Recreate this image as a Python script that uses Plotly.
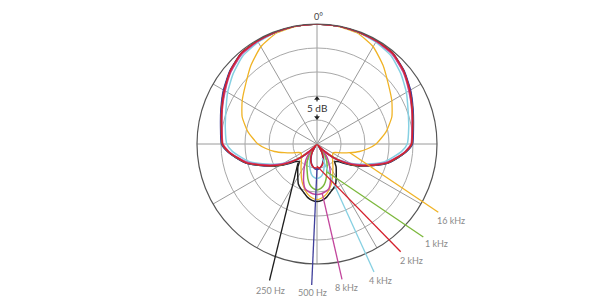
import math
import plotly.graph_objects as go

# ---------------- data (dB vs angle, half pattern 0..180 deg, mirrored) ----------------
angles = [0, 10, 20, 30, 40, 50, 60, 70, 80, 90, 95, 100, 105, 110, 115, 120, 125,
          130, 135, 140, 145, 150, 155, 160, 165, 170, 175, 180]

db_250 = [0, 0, -0.1, -0.2, -0.4, -1.4, -2.6, -3.8, -4.7, -5.2, -6.4, -8.0, -9.7, -12.0, -14.1, -16.0, -17.9,
          -19.3, -19.8, -18.8, -18.0, -17.0, -15.8, -15.1, -14.5, -13.7, -13.2, -13.0]
db_500 = [0, 0, -0.1, -0.2, -0.4, -1.3, -2.5, -3.7, -4.6, -5.1, -6.3, -8.0, -9.7, -12.1, -14.3, -16.3, -18.3,
          -20.6, -22.5, -24.3, -24.5, -23.0, -22.2, -21.4, -20.7, -20.2, -19.8, -19.7]
db_1k = [0, 0, -0.1, -0.2, -0.5, -1.5, -2.8, -3.9, -4.8, -5.3, -6.5, -8.2, -9.9, -12.3, -14.4, -16.4, -18.6,
         -21.0, -23.0, -23.6, -22.0, -21.0, -20.0, -19.0, -17.6, -16.4, -15.7, -15.4]
db_2k = [0, 0, -0.1, -0.2, -0.4, -1.4, -2.7, -3.9, -4.8, -5.3, -6.5, -8.2, -9.8, -12.2, -14.3, -16.3, -18.5,
         -20.8, -23.0, -24.8, -24.0, -23.0, -22.0, -21.2, -20.6, -20.2, -20.0, -20.0]
db_4k = [0, 0, -0.2, -0.5, -1.0, -2.2, -3.5, -4.8, -5.6, -6.2, -7.3, -9.0, -10.6, -12.9, -15.0, -17.0, -19.0,
         -21.0, -23.0, -24.0, -23.3, -22.5, -21.5, -20.5, -19.5, -18.5, -18.0, -17.8]
db_8k = [0, 0, -0.1, -0.3, -0.6, -1.6, -2.9, -4.0, -4.9, -5.4, -6.6, -8.4, -10.1, -12.5, -14.7, -16.8, -18.8,
         -20.5, -23.5, -22.3, -21.0, -19.8, -18.5, -16.8, -15.4, -14.9, -14.6, -14.5]
db_16k = [0, -0.1, -0.4, -1.6, -3.6, -5.6, -7.0, -8.4, -10.4, -12.7, -14.3, -16.0, -18.0, -19.6, -20.8, -21.2, -21.0,
          -20.8, -20.4, -19.9, -19.2, -18.4, -17.3, -16.2, -15.2, -14.3, -13.7, -13.4]

labels = ["250 Hz", "500 Hz", "8 kHz", "4 kHz", "2 kHz", "1 kHz", "16 kHz"]
colors = ["#1e1e1e", "#40409c", "#c2459c", "#86d0e2", "#d4202c", "#7cb83c", "#f0b325"]
series = [db_250, db_500, db_8k, db_4k, db_2k, db_1k, db_16k]

# leader anchors on curves (angle deg, dB)
anchor_theta = [225, 180, 174, 160, 180, 160, 105]
anchor_db = [-19.4, -20.0, -14.7, -21.9, -20.4, -18.8, -17.9]

# ---------------- layout geometry (pixels) ----------------
W, H = 600, 300
CX, CY, R = 317, 144, 120
RMIN, RMAX = -25, 0
leader_end = [(269.5, 280.5), (311.7, 285), (342, 279.3), (374, 272), (400.7, 251.7), (423.3, 237), (438.3, 212.3)]
label_pos = [(270, 290), (312, 292.5), (346, 287), (380, 280), (411.5, 260), (436, 243), (451, 220.5)]


def mirror(a, v):
    th = list(a) + [360 - x for x in reversed(a[:-1])]
    vv = list(v) + list(reversed(v[:-1]))
    return th, vv


def px(theta, db):
    rp = R * (db - RMIN) / (RMAX - RMIN)
    t = math.radians(theta)
    return CX + rp * math.sin(t), CY - rp * math.cos(t)


fig = go.Figure()

draw_order = [6, 3, 0, 1, 5, 2, 4]
for i in draw_order:
    th, vv = mirror(angles, series[i])
    fig.add_trace(go.Scatterpolar(
        theta=th, r=vv, mode="lines",
        line=dict(color=colors[i], width=1.5 if i != 6 else 1.3, shape="spline", smoothing=0.5),
        showlegend=False, hoverinfo="skip"))

# 5 dB arrows
fig.add_trace(go.Scatterpolar(theta=[0, 0], r=[-16.2, -15.4], mode="lines",
                              line=dict(color="#222", width=1), showlegend=False, hoverinfo="skip"))
fig.add_trace(go.Scatterpolar(theta=[0, 0], r=[-19.6, -18.8], mode="lines",
                              line=dict(color="#222", width=1), showlegend=False, hoverinfo="skip"))
fig.add_trace(go.Scatterpolar(theta=[0, 0], r=[-15.5, -19.5], mode="markers",
                              marker=dict(symbol=["triangle-up", "triangle-down"], size=5, color="#222"),
                              showlegend=False, hoverinfo="skip"))

shapes = []
annotations = []
for i in range(len(labels)):
    x0, y0 = px(anchor_theta[i], anchor_db[i])
    x1, y1 = leader_end[i]
    shapes.append(dict(type="line", xref="paper", yref="paper",
                       x0=x0 / W, y0=1 - y0 / H, x1=x1 / W, y1=1 - y1 / H,
                       line=dict(color=colors[i], width=1.3)))
    lx, ly = label_pos[i]
    annotations.append(dict(text=labels[i], xref="paper", yref="paper", x=lx / W, y=1 - ly / H,
                            xanchor="center", yanchor="middle", showarrow=False,
                            font=dict(family="Lato", size=9, color="#8a8a8a")))

annotations.append(dict(text="0°", xref="paper", yref="paper", x=318 / W, y=1 - 16 / H,
                        xanchor="center", yanchor="middle", showarrow=False,
                        font=dict(family="Lato", size=9, color="#444")))
annotations.append(dict(text="5 dB", xref="paper", yref="paper", x=317 / W, y=1 - 108 / H,
                        xanchor="center", yanchor="middle", showarrow=False, bgcolor="white",
                        borderpad=0, font=dict(family="Lato", size=10, color="#333")))

fig.update_layout(
    width=W, height=H, margin=dict(l=0, r=0, t=0, b=0),
    paper_bgcolor="white", plot_bgcolor="white",
    polar=dict(
        domain=dict(x=[(CX - R) / W, (CX + R) / W], y=[1 - (CY + R) / H, 1 - (CY - R) / H]),
        bgcolor="white",
        radialaxis=dict(range=[RMIN, RMAX], tickvals=[-20, -15, -10, -5], showticklabels=False,
                        ticks="", showline=False, gridcolor="#a8a8a8", gridwidth=1),
        angularaxis=dict(rotation=90, direction="clockwise", tickmode="linear", tick0=0, dtick=30,
                         showticklabels=False, ticks="", gridcolor="#9a9a9a", gridwidth=1,
                         showline=True, linecolor="#555", linewidth=1.2),
    ),
    shapes=shapes, annotations=annotations,
)

fig.write_html("out.html")
